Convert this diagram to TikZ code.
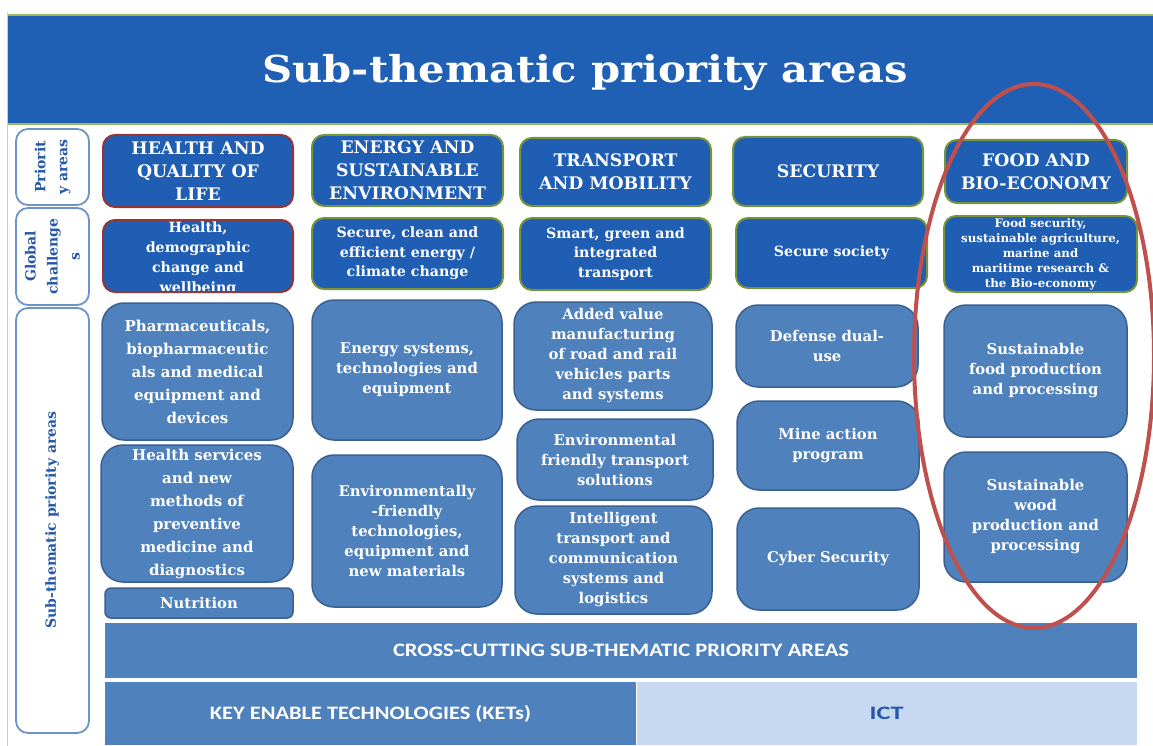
\documentclass[tikz,border=0pt]{standalone}
\usepackage{fontspec}
\setmainfont{DejaVu Serif}
\newfontfamily\carlito{Carlito}
\usetikzlibrary{calc}
\definecolor{titleblue}{RGB}{32,96,180}
\definecolor{hdrblue}{RGB}{31,94,178}
\definecolor{subblue}{RGB}{79,129,189}
\definecolor{subedge}{RGB}{58,95,145}
\definecolor{olive}{RGB}{119,147,60}
\definecolor{darkred}{RGB}{150,54,52}
\definecolor{lightgreen}{RGB}{155,187,89}
\definecolor{lblblue}{RGB}{108,148,200}
\definecolor{lbltext}{RGB}{38,88,168}
\definecolor{ictblue}{RGB}{198,217,241}
\definecolor{ellred}{RGB}{192,80,77}
\tikzset{
 boxbase/.style={inner sep=0pt, outer sep=0pt, align=center, text=white},
 hdr/.style={boxbase, fill=hdrblue, draw=olive, line width=2pt, rounded corners=12pt,
   font=\fontsize{17.3}{23}\selectfont\bfseries},
 hdrred/.style={hdr, draw=darkred},
 glb/.style={hdr, font=\fontsize{14.2}{19.5}\selectfont\bfseries},
 glbred/.style={glb, draw=darkred},
 sub/.style={boxbase, fill=subblue, draw=subedge, line width=1.5pt, rounded corners=22pt,
   font=\fontsize{14.8}{20}\selectfont\bfseries},
 subwide/.style={sub, font=\fontsize{15}{23}\selectfont\bfseries},
 lbl/.style={inner sep=0pt, outer sep=0pt, fill=white, draw=lblblue, line width=1.8pt, rounded corners=12pt},
 lbltxt/.style={rotate=90, align=center, text=lbltext, inner sep=0pt, font=\fontsize{14}{22}\selectfont\bfseries},
 bar/.style={inner sep=0pt, outer sep=0pt, fill=subblue, text=white, font=\carlito\fontsize{19}{20}\selectfont\bfseries},
}
\newcommand{\mybox}[7]{\node[#1, minimum width={(#5-#3)*1pt}, minimum height={(#6-#4)*1pt}] (#2) at ({(#3+#5)/2},{(#4+#6)/2}) {#7};}
\begin{document}
\begin{tikzpicture}[x=1pt,y=-1pt]
\useasboundingbox (0,0) rectangle (1153,746);
\fill[white] (0,0) rectangle (1153,746);
% title band
\fill[titleblue] (8,15) rectangle (1153,124);
\draw[lightgreen, line width=2pt] (8,15) -- (1153,15);
\draw[lightgreen, line width=2pt] (8,124) -- (1153,124);
\draw[gray!40, line width=1pt] (7,12) -- (7,746);
\node[anchor=base, text=white, inner sep=0pt, font=\fontsize{37}{40}\selectfont\bfseries] (title) at (585,83) {\resizebox{645pt}{\height}{Sub-thematic priority areas}};
% left labels
\mybox{lbl}{l1}{16}{129}{89}{205}{}
\mybox{lbl}{l2}{16}{208}{89}{305}{}
\mybox{lbl}{l3}{16}{308}{89}{733}{}
\node[lbltxt] (t1) at (l1.center) {Priorit\\y areas};
\node[lbltxt] (t2) at (l2.center) {Global\\challenge\\s};
\node[lbltxt, font=\fontsize{14}{16}\selectfont\bfseries] (t3) at (52,520) {Sub-thematic priority areas};
% column 1
\mybox{hdrred}{h1}{103}{135}{293}{207}{HEALTH AND\\QUALITY OF\\LIFE}
\node[glbred, minimum width=190pt, minimum height=72pt,
  path picture={\node[align=center, text=white, font=\fontsize{14.2}{20}\selectfont\bfseries] at ([yshift=-3pt]path picture bounding box.center) {Health,\\demographic\\change and\\wellbeing};}] (g1) at (198,256) {};
\mybox{subwide}{s11}{102}{303}{293}{440}{Pharmaceuticals,\\biopharmaceutic\\als and medical\\equipment and\\devices}
\mybox{subwide}{s12}{101}{445}{293}{582}{Health services\\and new\\methods of\\preventive\\medicine and\\diagnostics}
\mybox{sub, rounded corners=6pt}{s13}{105}{588}{293}{618}{Nutrition}
% column 2
\mybox{hdr}{h2}{312}{135}{503}{206}{ENERGY AND\\SUSTAINABLE\\ENVIRONMENT}
\mybox{glb}{g2}{312}{218}{503}{289}{Secure, clean and\\efficient energy /\\climate change}
\mybox{sub}{s21}{312}{300}{502}{440}{Energy systems,\\technologies and\\equipment}
\mybox{sub}{s22}{312}{455}{502}{607}{Environmentally\\-friendly\\technologies,\\equipment and\\new materials}
% column 3
\mybox{hdr}{h3}{520}{138}{711}{206}{TRANSPORT\\AND MOBILITY}
\mybox{glb}{g3}{520}{218}{711}{290}{Smart, green and\\integrated\\transport}
\mybox{sub}{s31}{514}{302}{712}{410}{Added value\\manufacturing\\of road and rail\\vehicles parts\\and systems}
\mybox{sub}{s32}{517}{419}{713}{500}{Environmental\\friendly transport\\solutions}
\mybox{sub}{s33}{515}{506}{712}{614}{Intelligent\\transport and\\communication\\systems and\\logistics}
% column 4
\mybox{hdr}{h4}{733}{137}{923}{206}{SECURITY}
\mybox{glb}{g4}{736}{218}{927}{288}{Secure society}
\mybox{sub}{s41}{736}{305}{918}{387}{Defense dual-\\use}
\mybox{sub}{s42}{737}{401}{919}{490}{Mine action\\program}
\mybox{sub}{s43}{737}{508}{919}{610}{Cyber Security}
% column 5
\mybox{hdr}{h5}{945}{140}{1127}{203}{FOOD AND\\BIO-ECONOMY}
\mybox{glb, font=\fontsize{11.8}{15}\selectfont\bfseries}{g5}{944}{216}{1137}{292}{Food security,\\sustainable agriculture,\\marine and\\maritime research \&\\the Bio-economy}
\mybox{sub}{s51}{944}{305}{1127}{437}{Sustainable\\food production\\and processing}
\mybox{sub}{s52}{944}{452}{1127}{582}{Sustainable\\wood\\production and\\processing}
% bottom bars
\mybox{bar}{cc}{105}{623}{1137}{678}{\resizebox{456pt}{\height}{CROSS-CUTTING SUB-THEMATIC PRIORITY AREAS}}
\mybox{bar}{ket}{105}{682}{636}{745}{\resizebox{321pt}{\height}{KEY ENABLE TECHNOLOGIES (KETs)}}
\mybox{bar, fill=ictblue, text=lbltext}{ict}{636}{682}{1137}{745}{\resizebox{34pt}{\height}{ICT}}
\draw[white, line width=1pt] (ket.north east) -- (ket.south east);
% red ellipse
\draw[ellred, line width=4pt] (1034,356) ellipse [x radius=120pt, y radius=272pt];
\end{tikzpicture}
\end{document}
